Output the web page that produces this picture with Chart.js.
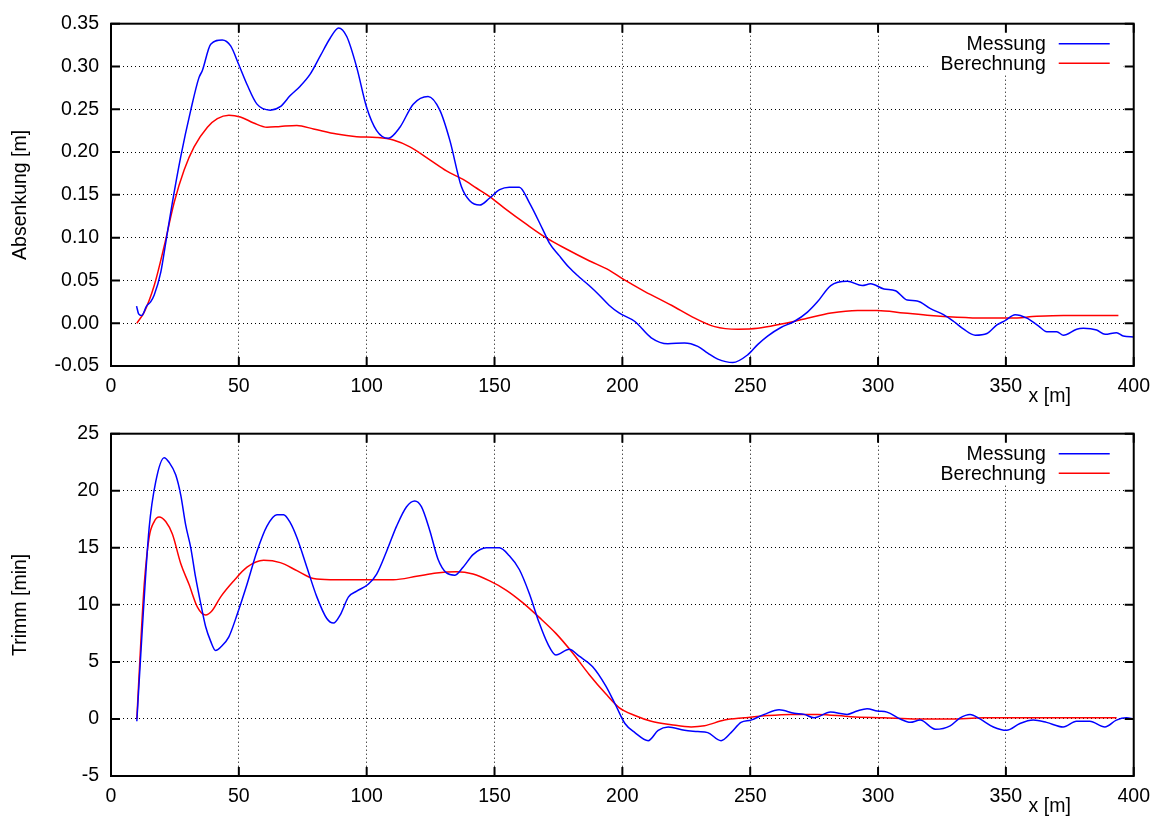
<!DOCTYPE html>
<html>
<head>
<meta charset="utf-8">
<script src="https://cdn.jsdelivr.net/npm/chart.js@4"></script>
<style>
  body { margin: 0; background: #fff; }
  canvas { position: absolute; left: 0; }
  #top { top: 0; }
  #bottom { top: 410px; }
</style>
</head>
<body>
<canvas id="top" width="1159" height="410"></canvas>
<canvas id="bottom" width="1159" height="409"></canvas>
<script>
const seriesLabels = ['Messung', 'Berechnung'];
const xLabel = 'x [m]';
const yLabelTop = 'Absenkung [m]';
const yLabelBottom = 'Trimm [min]';

// [x, y] pairs
const messungTop = [[10.0,0.020],[10.8,0.011],[12.0,0.009],[13.9,0.020],[15.5,0.025],[16.9,0.033],[19.5,0.060],[21.4,0.094],[24.0,0.141],[27.3,0.195],[31.2,0.249],[34.4,0.287],[35.7,0.295],[39.0,0.326],[43.5,0.331],[46.8,0.324],[50.0,0.302],[53.2,0.279],[57.1,0.256],[62.3,0.249],[66.2,0.253],[70.1,0.266],[74.0,0.277],[77.9,0.291],[81.8,0.312],[85.7,0.333],[89.0,0.345],[92.2,0.335],[96.1,0.299],[100.0,0.252],[103.9,0.225],[108.4,0.216],[113.0,0.229],[118.2,0.256],[124.0,0.265],[128.6,0.249],[132.5,0.214],[137.0,0.160],[140.3,0.143],[144.2,0.138],[148.0,0.146],[152.0,0.156],[155.8,0.159],[159.7,0.159],[163.6,0.141],[168.8,0.110],[171.4,0.094],[175.3,0.079],[179.2,0.065],[183.1,0.054],[187.0,0.044],[190.9,0.033],[194.8,0.021],[198.7,0.012],[204.9,0.002],[211.3,-0.017],[217.8,-0.024],[224.3,-0.023],[229.5,-0.027],[233.4,-0.035],[237.3,-0.042],[243.2,-0.046],[249.0,-0.037],[252.9,-0.025],[256.8,-0.015],[262.0,-0.005],[267.2,0.002],[272.4,0.013],[276.3,0.025],[281.5,0.044],[288.0,0.049],[293.8,0.044],[297.1,0.046],[302.3,0.040],[306.8,0.038],[311.4,0.027],[315.3,0.026],[320.5,0.017],[325.6,0.010],[329.6,0.002],[333.5,-0.007],[338.0,-0.014],[342.6,-0.012],[346.5,-0.002],[349.7,0.003],[353.6,0.010],[358.2,0.006],[362.7,-0.003],[366.0,-0.010],[369.9,-0.010],[372.5,-0.014],[377.7,-0.007],[380.3,-0.006],[385.5,-0.008],[388.8,-0.013],[393.3,-0.011],[395.9,-0.015],[400.0,-0.016]];

const berechnungTop = [[10.1,0.000],[13.0,0.013],[16.9,0.044],[20.8,0.090],[24.7,0.141],[28.6,0.179],[32.5,0.206],[37.7,0.229],[41.6,0.239],[46.1,0.243],[50.6,0.241],[55.8,0.234],[61.0,0.229],[66.2,0.230],[72.7,0.231],[79.2,0.227],[88.3,0.221],[96.1,0.218],[103.9,0.217],[110.4,0.214],[116.9,0.206],[124.7,0.191],[131.2,0.178],[137.7,0.168],[142.9,0.158],[148.1,0.148],[154.5,0.133],[162.3,0.116],[170.1,0.100],[177.9,0.087],[187.0,0.073],[194.8,0.062],[200.0,0.052],[208.8,0.037],[219.2,0.021],[228.3,0.006],[236.1,-0.004],[245.2,-0.007],[253.0,-0.006],[262.1,-0.001],[271.2,0.005],[281.6,0.012],[292.0,0.015],[299.7,0.015],[310.1,0.012],[320.5,0.009],[330.9,0.007],[341.3,0.006],[351.7,0.006],[362.1,0.008],[372.5,0.009],[382.9,0.009],[394.0,0.009]];

const messungBottom = [[10.1,-0.2],[12.3,8.1],[14.9,16.7],[17.5,20.8],[20.8,22.9],[22.7,22.5],[25.3,21.4],[27.3,19.6],[29.2,17.0],[31.2,15.0],[33.1,12.4],[35.1,10.1],[37.0,8.1],[39.0,6.8],[40.9,6.0],[42.9,6.3],[46.1,7.2],[49.4,9.2],[53.2,11.8],[57.1,14.7],[61.0,16.9],[64.9,17.9],[67.5,17.9],[70.1,17.2],[72.7,15.9],[76.6,13.3],[80.5,10.7],[84.4,8.8],[87.0,8.4],[89.6,9.1],[92.9,10.7],[96.1,11.2],[100.6,11.8],[103.9,12.7],[107.8,14.7],[111.7,16.9],[115.6,18.6],[118.8,19.1],[121.4,18.6],[124.7,16.5],[127.9,14.0],[131.2,12.8],[134.4,12.6],[137.7,13.3],[141.6,14.4],[146.8,15.0],[151.9,15.0],[155.8,14.3],[159.7,13.1],[163.6,11.0],[167.5,8.4],[170.8,6.6],[174.0,5.6],[179.2,6.1],[183.1,5.5],[188.3,4.6],[193.5,2.9],[197.4,1.2],[201.0,-0.4],[204.9,-1.2],[210.1,-1.9],[214.0,-1.0],[217.9,-0.7],[224.3,-1.0],[229.5,-1.1],[233.4,-1.2],[238.6,-1.9],[242.5,-1.2],[246.4,-0.3],[250.3,-0.1],[255.5,0.4],[261.3,0.8],[267.2,0.5],[271.1,0.4],[275.0,0.1],[281.4,0.6],[287.9,0.4],[291.8,0.7],[295.7,0.9],[299.7,0.7],[303.5,0.6],[308.7,0.0],[312.6,-0.3],[316.5,-0.1],[322.4,-0.9],[328.2,-0.6],[332.1,0.1],[336.0,0.4],[339.9,0.0],[345.1,-0.7],[350.3,-1.0],[355.5,-0.4],[360.7,-0.1],[365.9,-0.3],[372.4,-0.7],[377.6,-0.2],[382.8,-0.2],[388.7,-0.7],[393.2,-0.1],[397.1,0.1],[400.0,0.0]];

const berechnungBottom = [[10.1,0.0],[11.7,6.9],[13.0,11.8],[14.9,15.9],[16.9,17.3],[18.8,17.7],[21.4,17.3],[24.0,16.2],[27.3,13.6],[30.5,11.8],[33.8,9.8],[37.0,9.1],[39.6,9.5],[42.9,10.7],[48.0,12.1],[53.2,13.3],[59.7,13.9],[66.2,13.7],[72.7,13.0],[79.2,12.3],[85.7,12.2],[93.5,12.2],[101.3,12.2],[110.4,12.2],[119.5,12.5],[127.3,12.8],[135.1,12.9],[141.6,12.7],[148.1,12.1],[154.5,11.3],[161.0,10.2],[167.5,8.9],[174.0,7.5],[180.5,5.8],[187.0,3.9],[193.5,2.2],[198.7,1.0],[204.9,0.3],[211.3,-0.2],[219.1,-0.5],[226.9,-0.7],[232.1,-0.6],[239.9,-0.1],[247.7,0.1],[256.8,0.3],[265.9,0.4],[276.3,0.4],[289.3,0.2],[302.3,0.1],[315.3,0.0],[328.3,0.0],[341.3,0.1],[354.3,0.1],[367.3,0.1],[380.3,0.1],[393.3,0.1]];

const FONT = 'Liberation Sans, Arial, Helvetica, sans-serif';
const FONT_SIZE = 19.5;
Chart.defaults.font.family = FONT;
Chart.defaults.font.size = FONT_SIZE;
Chart.defaults.color = '#000';

// gnuplot-ish frame, inward ticks, key and x label
const gnuplotLook = {
  id: 'gnuplotLook',
  beforeDatasetsDraw(chart) {
    const { ctx, chartArea: a } = chart;
    ctx.save();
    ctx.fillStyle = '#fff';
    ctx.fillRect(a.right - 206, a.top + 4, 196, 46);
    ctx.restore();
  },
  afterDraw(chart) {
    const { ctx, chartArea: a, scales } = chart;
    const x = scales.x, y = scales.y;
    ctx.save();
    ctx.strokeStyle = '#000';
    ctx.lineWidth = 2;
    ctx.beginPath();
    x.ticks.forEach(t => {
      const px = x.getPixelForValue(t.value);
      ctx.moveTo(px, a.bottom); ctx.lineTo(px, a.bottom - 9);
      ctx.moveTo(px, a.top); ctx.lineTo(px, a.top + 9);
    });
    y.ticks.forEach(t => {
      const py = y.getPixelForValue(t.value);
      ctx.moveTo(a.left, py); ctx.lineTo(a.left + 9, py);
      ctx.moveTo(a.right, py); ctx.lineTo(a.right - 9, py);
    });
    ctx.stroke();
    ctx.strokeRect(a.left, a.top, a.right - a.left, a.bottom - a.top);

    // key
    ctx.font = FONT_SIZE + 'px ' + FONT;
    ctx.textAlign = 'right';
    ctx.textBaseline = 'middle';
    chart.data.datasets.forEach((ds, i) => {
      const yy = a.top + 20 + i * 19.5;
      ctx.fillStyle = '#000';
      ctx.fillText(ds.label, a.right - 88, yy + 1);
      ctx.strokeStyle = ds.borderColor;
      ctx.lineWidth = 1.5;
      ctx.beginPath();
      ctx.moveTo(a.right - 75, yy);
      ctx.lineTo(a.right - 24, yy);
      ctx.stroke();
    });

    ctx.fillStyle = '#000';
    ctx.textAlign = 'center';
    ctx.fillText(xLabel, a.right - 84, a.bottom + 31);
    ctx.restore();
  }
};

function makeChart(id, messung, berechnung, yMin, yMax, yStep, yTitle, fmt, xAxisHeight) {
  const ctx = document.getElementById(id).getContext('2d');
  return new Chart(ctx, {
    type: 'line',
    data: {
      datasets: [
        { label: seriesLabels[0], data: messung.map(p => ({ x: p[0], y: p[1] })), borderColor: '#0000ff' },
        { label: seriesLabels[1], data: berechnung.map(p => ({ x: p[0], y: p[1] })), borderColor: '#ff0000' }
      ]
    },
    options: {
      responsive: false,
      animation: false,
      devicePixelRatio: 1,
      layout: { padding: { left: 0, right: 22, top: 20, bottom: 0 } },
      elements: {
        point: { radius: 0 },
        line: { borderWidth: 1.5, cubicInterpolationMode: 'monotone', fill: false }
      },
      plugins: { legend: { display: false }, tooltip: { enabled: false } },
      scales: {
        x: {
          type: 'linear',
          min: 0, max: 400,
          ticks: { stepSize: 50, padding: 9, maxRotation: 0 },
          grid: { color: '#000', lineWidth: 1, drawTicks: false },
          border: { display: false, dash: [1, 3] },
          afterFit: s => { s.height = xAxisHeight; }
        },
        y: {
          type: 'linear',
          min: yMin, max: yMax,
          ticks: { stepSize: yStep, padding: 12, callback: fmt },
          grid: { color: '#000', lineWidth: 1, drawTicks: false },
          border: { display: false, dash: [1, 3] },
          title: { display: true, text: yTitle, padding: { top: 9, bottom: 0 } },
          afterFit: s => { s.width = 111; }
        }
      }
    },
    plugins: [gnuplotLook]
  });
}

function fmtTop(v) {
  if (Math.abs(v) < 1e-9) return '0.00';
  return v.toFixed(2);
}

function fmtBottom(v) {
  return String(Math.round(v));
}

makeChart('top', messungTop, berechnungTop, -0.05, 0.35, 0.05, yLabelTop, fmtTop, 44);
makeChart('bottom', messungBottom, berechnungBottom, -5, 25, 5, yLabelBottom, fmtBottom, 43);
</script>
</body>
</html>
